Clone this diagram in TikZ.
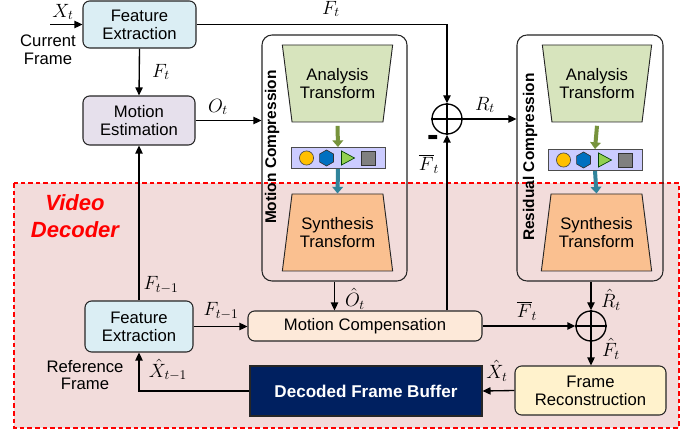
\documentclass[tikz,border=0pt]{standalone}
\usepackage{fontspec}
\setmainfont{Liberation Sans}
\usetikzlibrary{arrows.meta,shapes.geometric,calc}
\definecolor{feblue}{HTML}{DBEEF4}
\definecolor{meviolet}{HTML}{E6E0EC}
\definecolor{mcpeach}{HTML}{FDE9D9}
\definecolor{fryellow}{HTML}{FFF2CC}
\definecolor{pinkbg}{HTML}{F2DCDB}
\definecolor{navy}{HTML}{002060}
\definecolor{anagreen}{HTML}{D7E4BD}
\definecolor{synorange}{HTML}{FAC090}
\definecolor{latblue}{HTML}{CCCCFF}
\definecolor{arrgreen}{HTML}{77933C}
\definecolor{arrteal}{HTML}{31849B}
\definecolor{icyellow}{HTML}{FFC000}
\definecolor{icblue}{HTML}{0070C0}
\definecolor{icgreen}{HTML}{92D050}
\definecolor{icgray}{HTML}{808080}
\begin{document}
\begin{tikzpicture}[x=0.75pt,y=-0.75pt,
  box/.style={draw=black!85, line width=0.8pt, rounded corners=5pt, align=center,
    font=\fontsize{12.5}{13.3}\selectfont, inner sep=0pt},
  sz/.style 2 args={minimum width=#1*0.75pt, minimum height=#2*0.75pt},
  bigbox/.style={draw=black!85, line width=0.8pt, rounded corners=7.5pt, inner sep=0pt},
  trap/.style={trapezium, trapezium stretches=true, trapezium angle=75, draw=black!85,
    line width=0.7pt, align=center, inner sep=0pt, font=\fontsize{12.5}{13.3}\selectfont},
  latbar/.style={draw=black!70, line width=0.7pt, fill=latblue, inner sep=0pt, sz={94}{21}},
  conn/.style={line width=1pt, -{Triangle[length=6pt,width=5.5pt]}},
  plain/.style={line width=1pt},
  sumnode/.style={circle, draw, line width=1pt, minimum size=22.5pt, inner sep=0pt},
  lab/.style={font=\fontsize{14}{16}\selectfont, inner sep=0pt},
  txt/.style={font=\fontsize{12.5}{13.3}\selectfont, align=center, inner sep=0pt},
  rotlab/.style={rotate=90, font=\bfseries\fontsize{11.6}{13}\selectfont, inner sep=0pt},
  fatarrow/.style={line width=3pt, -{Triangle[length=5pt,width=8pt]}}
]
\useasboundingbox (0,0) rectangle (697,431);
\fill[white] (0,0) rectangle (697,431);

% decoder region
\draw[fill=pinkbg, draw=red, line width=1.8pt, dash pattern=on 3.5pt off 2.2pt] (14,183) rectangle (679,428);
\node[font=\bfseries\itshape\fontsize{16.5}{20}\selectfont, text=red, align=center, inner sep=0pt] (vd) at (75,216) {Video\\Decoder};

% compression boxes
\node[bigbox, sz={145}{246}] (mcbox) at (334.5,158) {};
\node[bigbox, sz={146}{246}] (rcbox) at (590,158) {};
\node[rotlab] (mclab) at (272,147) {Motion Compression};
\node[rotlab] (rclab) at (530,157) {Residual Compression};

% transforms
\node[trap, fill=anagreen, shape border rotate=180, sz={111}{77}] (ana1) at (337.5,83.5) {Analysis\\Transform};
\node[trap, fill=synorange, sz={111}{77}] (syn1) at (337.5,232.5) {Synthesis\\Transform};
\node[trap, fill=anagreen, shape border rotate=180, sz={110}{77}] (ana2) at (597,83.5) {Analysis\\Transform};
\node[trap, fill=synorange, sz={111}{77}] (syn2) at (596.5,232.5) {Synthesis\\Transform};

% latent bars
\node[latbar] (lat1) at (338,158) {};
\node[latbar] (lat2) at (595,160) {};
\foreach \b in {lat1,lat2}{
  \begin{scope}[shift={(\b.west)}]
    \draw[fill=icyellow, draw=black!70, line width=0.5pt] (16,0) circle[radius=5.3pt];
    \draw[fill=icblue, draw=black!80, line width=0.5pt] (36,0) +(90:6pt) -- +(150:6pt) -- +(210:6pt) -- +(270:6pt) -- +(330:6pt) -- +(30:6pt) -- cycle;
    \draw[fill=icgreen, draw=black!75!green, line width=0.5pt] (51,-7) -- (64,0) -- (51,7) -- cycle;
    \draw[fill=icgray, draw=black!80, line width=0.5pt] (71,-7) rectangle (85,7);
  \end{scope}
}
\draw[fatarrow, arrgreen] ([yshift=-2.5pt]ana1.south) -- (lat1.north);
\draw[fatarrow, arrteal] (lat1.south) -- (syn1.north);
\draw[fatarrow, arrgreen] ([yshift=-2.5pt]ana2.south) -- (lat2.north);
\draw[fatarrow, arrteal] (lat2.south) -- (syn2.north);

% boxes
\node[box, fill=feblue, sz={113}{47}] (fe1) at (139.5,24.5) {Feature\\Extraction};
\node[box, fill=meviolet, sz={112}{49}] (me) at (139,120.5) {Motion\\Estimation};
\node[box, fill=feblue, sz={108}{51}] (fe2) at (139,326.5) {Feature\\Extraction};
\node[box, fill=mcpeach, sz={234}{30}] (mcomp) at (365,326) {Motion Compensation};
\node[draw=black!85, line width=0.8pt, fill=navy, text=white, sz={232}{50}, inner sep=0pt,
      font=\bfseries\fontsize{12.8}{14}\selectfont] (dfb) at (366,391) {Decoded Frame Buffer};
\node[box, fill=fryellow, sz={151}{49}] (fr) at (590.5,390.5) {Frame\\Reconstruction};

% summation nodes
\node[sumnode] (sub1) at (447,119) {};
\draw[plain] (sub1.north) -- (sub1.south) (sub1.west) -- (sub1.east);
\node[sumnode] (add) at (591,326) {};
\draw[plain] (add.north) -- (add.south) (add.west) -- (add.east);

% input
\coordinate (xin) at (50,24.5);
\draw[conn] (xin) -- (fe1.west);
\node[txt] (cf) at (48,50) {Current\\Frame};
\node[txt] (rf) at (85,375) {Reference\\Frame};

% connectors
\draw[conn] (fe1.south) -- (me.north);
\draw[conn] (fe1.east) -- (fe1.east -| sub1) -- (sub1.north);
\draw[conn] (me.east) -- (me.east -| mcbox.west);
\draw[conn] (fe2.north) -- (me.south);
\draw[conn] (sub1.east) -- (sub1.east -| rcbox.west);
\draw[conn] (sub1 |- mcomp.north) -- (sub1.south);
\draw[conn] (mcbox.south) -- (mcbox.south |- mcomp.north);
\draw[conn] (fe2.east) -- (fe2.east -| mcomp.west);
\draw[conn] (mcomp.east) -- (add.west);
\draw[conn] (add |- rcbox.south) -- (add.north);
\draw[conn] (add.south) -- (add |- fr.north);
\draw[conn] (fr.west) -- (dfb.east);
\draw[conn] (dfb.west) -| (fe2.south);

% labels
\node[lab] (lxt) at (63,12) {$X_t$};
\node[lab] (lft1) at (331,9) {$F_t$};
\node[lab] (lft2) at (161,72) {$F_t$};
\node[lab] (lot) at (218,107) {$O_t$};
\node[lab] (lrt) at (485,105) {$R_t$};
\node[font=\bfseries\fontsize{26}{26}\selectfont, inner sep=0pt] (minus) at (433,141) {-};
\node[lab] (lfb1) at (429,164) {$\overline{F}_t$};
\node[lab] (lohat) at (355,299) {$\hat{O}_t$};
\node[lab] (lftm1) at (161,285) {$F_{t-1}$};
\node[lab] (lftm2) at (221,311) {$F_{t-1}$};
\node[lab] (lxhm) at (168,370) {$\hat{X}_{t-1}$};
\node[lab] (lfb2) at (527,311) {$\overline{F}_t$};
\node[lab] (lrhat) at (611,300) {$\hat{R}_t$};
\node[lab] (lfhat) at (611,349) {$\hat{F}_t$};
\node[lab] (lxhat) at (497,371) {$\hat{X}_t$};
\end{tikzpicture}
\end{document}
